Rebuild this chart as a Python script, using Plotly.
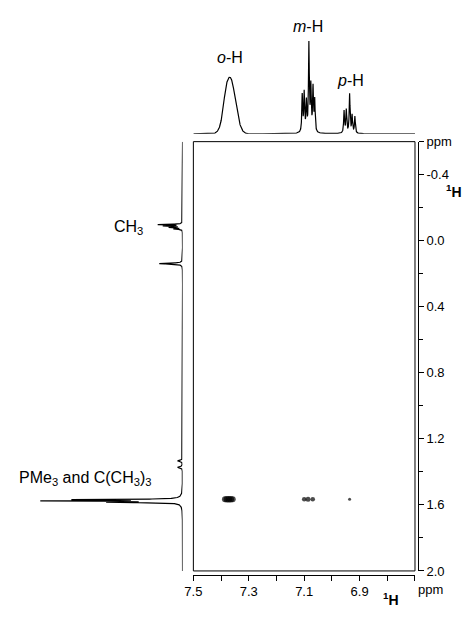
import numpy as np
import plotly.graph_objects as go

W, H = 465, 617
FONT = "Liberation Sans"

# ---------------- data ----------------
# F2 (horizontal, aromatic region) 1D projection: peak list
top_ppm    = [7.384, 7.367, 7.107, 7.100, 7.092, 7.083, 7.076, 7.068, 7.062, 6.956, 6.948, 6.936, 6.927, 6.917]
top_height = [0.08, 0.60, 0.40, 0.42, 0.32, 0.94, 0.48, 0.47, 0.34, 0.24, 0.25, 0.42, 0.19, 0.18]
top_width  = [0.008, 0.0187, 0.0018, 0.0018, 0.0018, 0.0018, 0.0018, 0.0018, 0.0018, 0.0018, 0.0018, 0.0018, 0.0018, 0.0018]
top_shape  = ["G", "G", "L", "L", "L", "L", "L", "L", "L", "L", "L", "L", "L", "L"]

# F1 (vertical, aliphatic region) 1D projection: peak list
left_ppm    = [-0.098, -0.089, -0.080, -0.071, 0.139, 1.333, 1.372, 1.568, 1.576, 1.584, 1.576]
left_height = [0.17, 0.13, 0.09, 0.06, 0.165, 0.035, 0.035, 0.70, 0.90, 0.45, 0.04]
left_width  = [0.0018, 0.0018, 0.0018, 0.0018, 0.003, 0.004, 0.004, 0.002, 0.002, 0.002, 0.012]

# cross peaks of the 2D map
cross_x    = [7.386, 7.379, 7.372, 7.365, 7.358, 7.100, 7.086, 7.069, 6.936]
cross_y    = [1.565, 1.565, 1.565, 1.565, 1.565, 1.565, 1.565, 1.565, 1.565]
cross_size = [6, 6.5, 6.5, 6.5, 6, 4.5, 5, 4.5, 3]

# axis ticks
x_tickvals = [7.5, 7.3, 7.1, 6.9, 6.7]
x_ticktext = ["7.5", "7.3", "7.1", "6.9", ""]
x_minor    = [7.4, 7.2, 7.0, 6.8]
y_tickvals = [-0.6, -0.4, 0.0, 0.4, 0.8, 1.2, 1.6, 2.0]
y_ticktext = ["ppm", "-0.4", "0.0", "0.4", "0.8", "1.2", "1.6", "2.0"]
y_minor    = [-0.2, 0.2, 0.6, 1.0, 1.4, 1.8]

X_RANGE = [7.5, 6.7]
Y_RANGE = [2.0, -0.6]


def spectrum(grid, centers, heights, widths, shapes=None):
    s = np.zeros_like(grid)
    for i, (c, h, w) in enumerate(zip(centers, heights, widths)):
        kind = shapes[i] if shapes else "L"
        if kind == "G":
            s += h * np.exp(-0.5 * ((grid - c) / w) ** 2)
        else:
            s += h / (1.0 + ((grid - c) / w) ** 2)
    return s


xg = np.linspace(X_RANGE[0], X_RANGE[1], 4001)
top_spec = spectrum(xg, top_ppm, top_height, top_width, top_shape)
yg = np.linspace(Y_RANGE[1], Y_RANGE[0], 13001)
left_spec = spectrum(yg, left_ppm, left_height, left_width)


def px(x):  # window pixel -> paper fraction
    return x / W


def py(y):
    return 1 - y / H


main_xdom = [px(188), px(414)]
main_ydom = [py(578), py(138)]

fig = go.Figure()

# top projection
fig.add_trace(go.Scatter(x=xg, y=top_spec, mode="lines",
                         line=dict(color="black", width=1.2),
                         xaxis="x2", yaxis="y2", hoverinfo="skip"))
# left projection
fig.add_trace(go.Scatter(x=left_spec, y=yg, mode="lines",
                         line=dict(color="black", width=1.2),
                         xaxis="x3", yaxis="y3", hoverinfo="skip"))
# cross peaks
fig.add_trace(go.Scatter(x=cross_x, y=cross_y, mode="markers",
                         marker=dict(color="black", size=cross_size, line=dict(width=0)),
                         xaxis="x", yaxis="y", hoverinfo="skip"))

tickfont = dict(family=FONT, size=13, color="black")

fig.update_layout(
    width=W, height=H, autosize=False,
    margin=dict(l=0, r=0, t=0, b=0),
    paper_bgcolor="white", plot_bgcolor="white",
    showlegend=False, hovermode=False,
    xaxis=dict(domain=main_xdom, range=X_RANGE, anchor="free", position=py(582),
               showline=True, linecolor="black", linewidth=1,
               ticks="outside", ticklen=5, tickwidth=1, tickcolor="black",
               tickvals=x_tickvals, ticktext=x_ticktext, tickfont=tickfont,
               minor=dict(tickvals=x_minor, ticks="outside", ticklen=5, tickcolor="black", tickwidth=1),
               showgrid=False, zeroline=False, fixedrange=True),
    yaxis=dict(domain=main_ydom, range=Y_RANGE, side="right", anchor="free", position=px(417),
               showline=True, linecolor="black", linewidth=1,
               ticks="outside", ticklen=5, tickwidth=1, tickcolor="black",
               tickvals=y_tickvals, ticktext=y_ticktext, tickfont=tickfont,
               minor=dict(tickvals=y_minor, ticks="outside", ticklen=4, tickcolor="black", tickwidth=1),
               showgrid=False, zeroline=False, fixedrange=True),
    xaxis2=dict(domain=main_xdom, range=X_RANGE, anchor="y2", visible=False, fixedrange=True),
    yaxis2=dict(domain=[py(130), 1.0], range=[0, 130 / 95.2], anchor="x2", visible=False, fixedrange=True),
    xaxis3=dict(domain=[0, px(177)], range=[177 / 144, 0], anchor="y3", visible=False, fixedrange=True),
    yaxis3=dict(domain=main_ydom, range=Y_RANGE, anchor="x3", visible=False, fixedrange=True),
)

# box around the 2D map
fig.add_shape(type="rect", xref="paper", yref="paper",
              x0=main_xdom[0], x1=main_xdom[1], y0=main_ydom[0], y1=main_ydom[1],
              line=dict(color="black", width=1))

lab = dict(family=FONT, size=16, color="black")
ann = [
    dict(text="<i>o</i>-H", x=7.366, xref="x2", y=py(52), yref="paper"),
    dict(text="<i>m</i>-H", x=7.086, xref="x2", y=py(20), yref="paper"),
    dict(text="<i>p</i>-H", x=6.932, xref="x2", y=py(75), yref="paper"),
]
for a in ann:
    fig.add_annotation(showarrow=False, xanchor="center", yanchor="middle", font=lab, **a)

fig.add_annotation(text="CH<sub>3</sub>", x=px(139), xref="paper", y=-0.08, yref="y3",
                   xanchor="right", yanchor="middle", showarrow=False, font=lab)
fig.add_annotation(text="PMe<sub>3</sub> and C(CH<sub>3</sub>)<sub>3</sub>", x=px(148), xref="paper",
                   y=1.44, yref="y3", xanchor="right", yanchor="middle", showarrow=False, font=lab)

fig.add_annotation(text="ppm", x=px(430), xref="paper", y=py(597), yref="paper",
                   xanchor="center", yanchor="middle", showarrow=False, font=tickfont)
fig.add_annotation(text="<b><sup>1</sup>H</b>", x=px(454), xref="paper", y=py(189), yref="paper",
                   xanchor="center", yanchor="middle", showarrow=False,
                   font=dict(family=FONT, size=14, color="black"))
fig.add_annotation(text="<b><sup>1</sup>H</b>", x=px(390), xref="paper", y=py(607), yref="paper",
                   xanchor="center", yanchor="middle", showarrow=False,
                   font=dict(family=FONT, size=14, color="black"))

# remove the default 8 px page margin so the figure fills the window exactly; no mode bar
fig.write_html("out.html",
               config={"displayModeBar": False},
               post_script="document.body.style.margin='0px';document.body.style.overflow='hidden';")
